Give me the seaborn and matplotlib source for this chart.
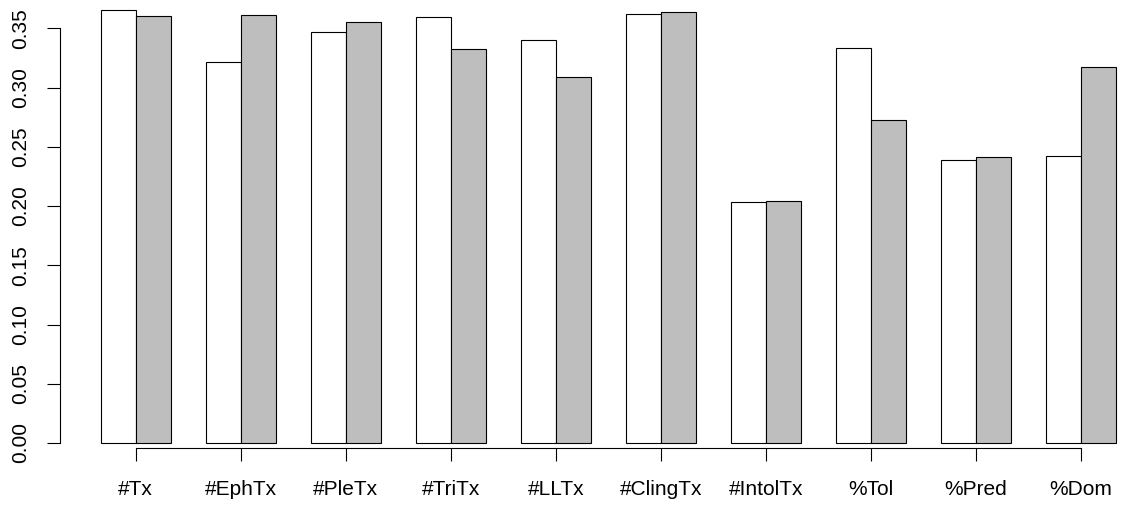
import numpy as np
import pandas as pd
import matplotlib
matplotlib.use("Agg")
import matplotlib.pyplot as plt
import seaborn as sns

metrics = ["#Tx", "#EphTx", "#PleTx", "#TriTx", "#LLTx", "#ClingTx", "#IntolTx", "%Tol", "%Pred", "%Dom"]
first = [0.3652, 0.3213, 0.3466, 0.3593, 0.3401, 0.3618, 0.2037, 0.3337, 0.2390, 0.2425]
second = [0.3601, 0.3615, 0.3550, 0.3323, 0.3092, 0.3640, 0.2045, 0.2730, 0.2417, 0.3176]
yticks = [0.00, 0.05, 0.10, 0.15, 0.20, 0.25, 0.30, 0.35]

df = pd.DataFrame({
    "metric": metrics * 2,
    "value": first + second,
    "set": ["a"] * len(metrics) + ["b"] * len(metrics),
})

sns.set_style("white")
plt.rcParams['font.family'] = ['Liberation Sans', 'DejaVu Sans']

W, H = 1124, 508
fig = plt.figure(figsize=(W / 100, H / 100), dpi=100)
# plot region placed in pixels like the R device
ax = fig.add_axes([60 / W, (H - 460) / H, 1064 / W, 460 / H])

sns.barplot(data=df, x="metric", y="value", hue="set", order=metrics,
            palette=["white", "#bebebe"], width=2 / 3, edgecolor="black",
            linewidth=0.8, dodge=True, legend=False, ax=ax, saturation=1)

ax.set_xlim(-0.721, 9.412)
ax.set_ylim(-0.01435, 0.37387)
ax.set_xlabel("")
ax.set_ylabel("")

for s in ["top", "right"]:
    ax.spines[s].set_visible(False)
ax.spines["left"].set_bounds(0, 0.35)
ax.spines["bottom"].set_position(("data", -0.00397))
ax.spines["bottom"].set_bounds(0, 9)
for s in ["left", "bottom"]:
    ax.spines[s].set_linewidth(0.8)
    ax.spines[s].set_color("black")

ax.set_yticks(yticks)
ax.set_yticklabels([f"{v:.2f}" for v in yticks], rotation=90, va="center")
ax.tick_params(axis="y", direction="out", length=9.4, width=0.8, pad=12, labelsize=15,
               left=True, color="black", labelcolor="black")
ax.tick_params(axis="x", direction="out", length=9.4, width=0.8, pad=14, labelsize=15,
               bottom=True, color="black", labelcolor="black")

fig.savefig("out.png", dpi=100)
